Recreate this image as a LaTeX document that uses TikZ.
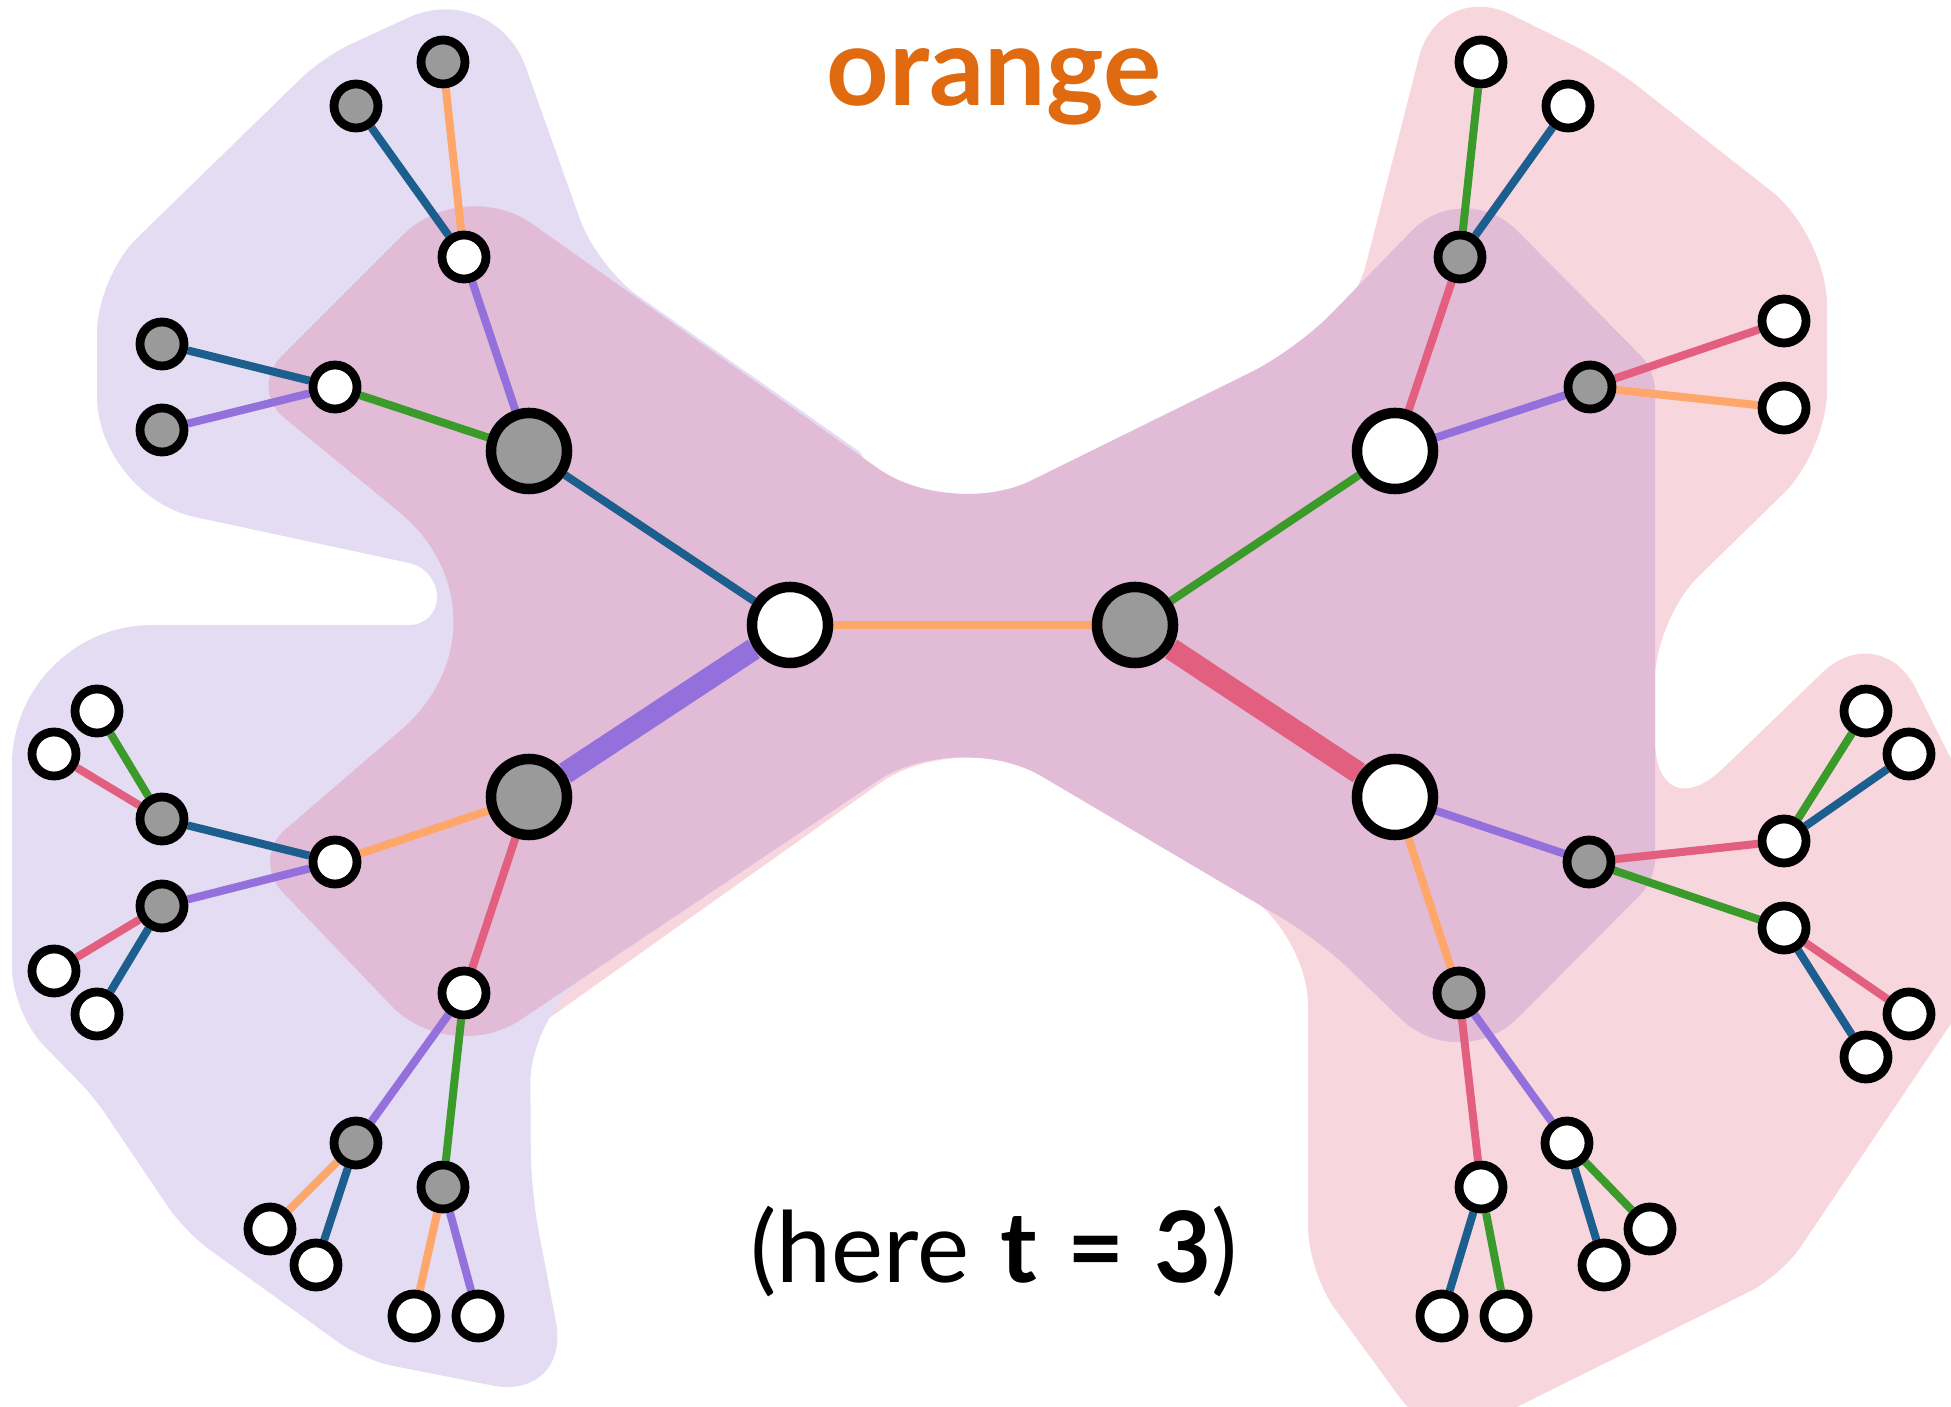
\documentclass[tikz,border=0pt]{standalone}
\usepackage{fontspec}
\setmainfont{Lato}
\usetikzlibrary{calc, backgrounds}

\definecolor{setleft}{HTML}{E4DCF2}
\definecolor{setright}{HTML}{F7D6DE}
\definecolor{setboth}{HTML}{E2BBD6}
\definecolor{nodegrey}{HTML}{9A9A9A}
\definecolor{cblue}{HTML}{1C5F8F}
\definecolor{corange}{HTML}{FFA66A}
\definecolor{cgreen}{HTML}{3A9A2A}
\definecolor{cpurple}{HTML}{9370DB}
\definecolor{cred}{HTML}{E35F80}
\definecolor{titleorange}{HTML}{E06A10}

% rounded corner at #2, coming from #1 and going on to #3, cut at distance #4
\tikzset{
    bendat/.style n args={4}{insert path={-- ($(#2)!#4!(#1)$) .. controls ($(#2)!0.45*#4!(#1)$) and ($(#2)!0.45*#4!(#3)$) .. ($(#2)!#4!(#3)$)}}
}

\begin{document}
\begin{tikzpicture}[
    x=0.01cm, y=-0.01cm,
    hub/.style={circle, draw, line width=0.105cm, minimum size=0.76cm, inner sep=0pt},
    dot/.style={circle, draw, line width=0.088cm, minimum size=0.44cm, inner sep=0pt},
    wfill/.style={fill=white},
    gfill/.style={fill=nodegrey},
    link/.style={line width=0.08cm},
    bond/.style={line width=0.22cm}
]
    \useasboundingbox (0,0) rectangle (1951,1407);

    % Nodes
    \node [hub, wfill] (cl) at (790,625) {};
    \node [hub, gfill] (cr) at (1135,625) {};
    \node [hub, gfill] (ul) at (529,451) {};
    \node [hub, gfill] (ll) at (529,797) {};
    \node [hub, wfill] (ur) at (1395,451) {};
    \node [hub, wfill] (lr) at (1395,797) {};

    \foreach \n/\x/\y in {ula1/443/62, ula2/356/106, ulb1/162/344, ulb2/162/430,
        lla1/162/819, lla2/162/906, llb1/356/1143, llb2/443/1187,
        ura/1460/257, urb/1590/387, lra/1589/862, lrb/1459/993}
        \node [dot, gfill] (\n) at (\x,\y) {};

    \foreach \n/\x/\y in {ula/464/257, ulb/335/387, lla/335/862, llb/464/993,
        lla1a/97/711, lla1b/54/754, lla2a/54/971, lla2b/97/1014,
        llb1a/270/1229, llb1b/316/1265, llb2a/414/1316, llb2b/478/1316,
        ura1/1481/62, ura2/1568/106, urb1/1784/321, urb2/1784/408,
        lra1/1784/841, lra2/1784/928, lra1a/1866/711, lra1b/1909/754,
        lra2a/1909/1014, lra2b/1866/1057, lrb1/1567/1143, lrb2/1481/1187,
        lrb1a/1650/1229, lrb1b/1604/1265, lrb2a/1442/1316, lrb2b/1506/1316}
        \node [dot, wfill] (\n) at (\x,\y) {};

    % Labels
    \node [font=\fontsize{31}{36}\selectfont\bfseries, text=titleorange, anchor=base] (title) at (994,106) {orange};
    \node [font=\fontsize{28}{33}\selectfont, anchor=base] (note) at (994,1282) {(here\hspace{0.06em} {\bfseries t\hspace{0.06em} =\hspace{0.06em} 3})};

    % Outlines of the two sets
    \foreach \n/\x/\y in {m1/463/175, m2/951/520, m3/1296/350, m4/1464/177, m5/1655/370,
        m6/1655/880, m7/1460/1076, m8/1319/940, m9/958/727, m10/450/1067,
        m11/251/859, m12/530/619, m13/249/389,
        l1/323/57, l2/494/-22, l3/597/267, l4/860/452, l5/960/625, l6/880/778,
        l7/650/933, l8/530/1013, l9/531/1191, l10/571/1401, l11/363/1360,
        l12/185/1232, l13/94/1097, l14/12/1013, l15/12/625, l16/437/625,
        l17/437/569, l18/97/496, l19/97/277,
        p1/1351/323, p2/1439/-21, p3/1607/62, p4/1827/235, p5/1827/451,
        p6/1655/619, p7/1655/834, p8/1880/617, p9/2027/911, p10/1781/1276,
        p11/1436/1447, p12/1308/1272, p13/1308/930, p14/959/727, p15/545/1021,
        p16/520/975, p17/900/650, p18/1250/375}
        \coordinate (\n) at (\x,\y);

    \begin{scope}[on background layer]
        \clip (0,0) rectangle (1951,1407);
        % right set
        \fill [setright] ($(p18)!0.5!(p1)$)
            [bendat={p18}{p1}{p2}{0.6cm}] [bendat={p1}{p2}{p3}{0.8cm}]
            [bendat={p2}{p3}{p4}{0.4cm}] [bendat={p3}{p4}{p5}{0.7cm}]
            [bendat={p4}{p5}{p6}{0.6cm}] [bendat={p5}{p6}{p7}{0.6cm}]
            [bendat={p6}{p7}{p8}{0.95cm}] [bendat={p7}{p8}{p9}{0.8cm}]
            -- (p9)
            [bendat={p9}{p10}{p11}{0.35cm}] [bendat={p10}{p11}{p12}{0.6cm}]
            [bendat={p11}{p12}{p13}{0.45cm}] [bendat={p12}{p13}{p14}{0.75cm}]
            [bendat={p13}{p14}{p15}{0.97cm}]
            -- (p15) -- (p16) -- (p17) -- (p18) -- cycle;
        % left set
        \fill [setleft] ($(l19)!0.5!(l1)$)
            [bendat={l19}{l1}{l2}{0.3cm}] [bendat={l1}{l2}{l3}{0.95cm}]
            [bendat={l2}{l3}{l4}{0.5cm}]
            -- (l4) -- (l5) -- (l6) -- (l7)
            [bendat={l7}{l8}{l9}{0.7cm}] [bendat={l8}{l9}{l10}{0.4cm}]
            [bendat={l9}{l10}{l11}{0.8cm}] [bendat={l10}{l11}{l12}{0.3cm}]
            [bendat={l11}{l12}{l13}{0.3cm}] [bendat={l12}{l13}{l14}{0.2cm}]
            [bendat={l13}{l14}{l15}{0.45cm}] [bendat={l14}{l15}{l16}{1.4cm}]
            [bendat={l15}{l16}{l17}{0.27cm}] [bendat={l16}{l17}{l18}{0.27cm}]
            [bendat={l17}{l18}{l19}{1.0cm}] [bendat={l18}{l19}{l1}{0.55cm}]
            -- cycle;
        % both sets
        \fill [setboth] ($(m13)!0.5!(m1)$)
            [bendat={m13}{m1}{m2}{0.84cm}] [bendat={m1}{m2}{m3}{0.89cm}]
            [bendat={m2}{m3}{m4}{0.5cm}] [bendat={m3}{m4}{m5}{0.75cm}]
            [bendat={m4}{m5}{m6}{0.2cm}] [bendat={m5}{m6}{m7}{0.2cm}]
            [bendat={m6}{m7}{m8}{0.82cm}] [bendat={m7}{m8}{m9}{0.4cm}]
            [bendat={m8}{m9}{m10}{0.97cm}] [bendat={m9}{m10}{m11}{0.84cm}]
            [bendat={m10}{m11}{m12}{0.45cm}] [bendat={m11}{m12}{m13}{1.7cm}]
            [bendat={m12}{m13}{m1}{0.45cm}]
            -- cycle;

        % Edges
        \draw [bond, cpurple] (cl) -- (ll);
        \draw [bond, cred] (cr) -- (lr);
        \foreach \a/\b/\c in {cl/cr/corange, cl/ul/cblue,
            ul/ula/cpurple, ul/ulb/cgreen, ula/ula1/corange, ula/ula2/cblue,
            ulb/ulb1/cblue, ulb/ulb2/cpurple,
            ll/lla/corange, ll/llb/cred, lla/lla1/cblue, lla/lla2/cpurple,
            lla1/lla1a/cgreen, lla1/lla1b/cred, lla2/lla2a/cred, lla2/lla2b/cblue,
            llb/llb1/cpurple, llb/llb2/cgreen, llb1/llb1a/corange, llb1/llb1b/cblue,
            llb2/llb2a/corange, llb2/llb2b/cpurple,
            cr/ur/cgreen, ur/ura/cred, ur/urb/cpurple, ura/ura1/cgreen, ura/ura2/cblue,
            urb/urb1/cred, urb/urb2/corange,
            lr/lra/cpurple, lr/lrb/corange, lra/lra1/cred, lra/lra2/cgreen,
            lra1/lra1a/cgreen, lra1/lra1b/cblue, lra2/lra2a/cred, lra2/lra2b/cblue,
            lrb/lrb1/cpurple, lrb/lrb2/cred, lrb1/lrb1a/cgreen, lrb1/lrb1b/cblue,
            lrb2/lrb2a/cblue, lrb2/lrb2b/cgreen}
            \draw [link, \c] (\a) -- (\b);
    \end{scope}
\end{tikzpicture}
\end{document}
